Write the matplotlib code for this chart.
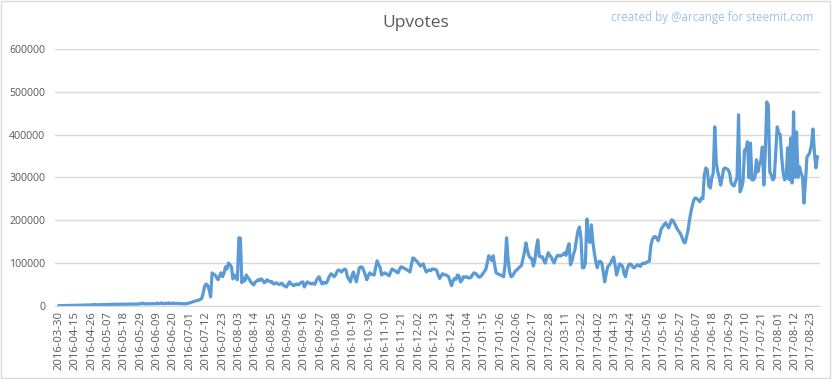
import matplotlib
matplotlib.use("Agg")
import matplotlib.pyplot as plt
from matplotlib.patches import Rectangle
from matplotlib.ticker import FuncFormatter

# one label every 11 days
tick_labels = [
    "2016-03-30", "2016-04-15", "2016-04-26", "2016-05-07", "2016-05-18",
    "2016-05-29", "2016-06-09", "2016-06-20", "2016-07-01", "2016-07-12",
    "2016-07-23", "2016-08-03", "2016-08-14", "2016-08-25", "2016-09-05",
    "2016-09-16", "2016-09-27", "2016-10-08", "2016-10-19", "2016-10-30",
    "2016-11-10", "2016-11-21", "2016-12-02", "2016-12-13", "2016-12-24",
    "2017-01-04", "2017-01-15", "2017-01-26", "2017-02-06", "2017-02-17",
    "2017-02-28", "2017-03-11", "2017-03-22", "2017-04-02", "2017-04-13",
    "2017-04-24", "2017-05-05", "2017-05-16", "2017-05-27", "2017-06-07",
    "2017-06-18", "2017-06-29", "2017-07-10", "2017-07-21", "2017-08-01",
    "2017-08-12", "2017-08-23",
]

# daily upvotes in thousands, one row per 11-day block
upvotes_k = [
    0.5, 0.5, 0.6, 0.7, 0.8, 0.8, 0.9, 1, 1, 1.1, 1.2,
    1.2, 1.3, 1.4, 1.5, 1.5, 1.6, 1.8, 1.7, 1.9, 2, 2.1,
    2.2, 2.4, 3.5, 2.5, 2.6, 2.8, 2.7, 3.2, 2.9, 3, 3.1,
    3.2, 3.5, 3.3, 3.6, 3.4, 3.8, 3.5, 3.6, 3.9, 3.7, 3.8,
    3.9, 4, 3.8, 4.1, 4, 4.2, 4.1, 4.3, 4.2, 4.4, 4.3,
    4.5, 6.5, 5, 4.6, 4.8, 5, 4.7, 4.9, 5.2, 4.8, 5,
    6.5, 5, 5.5, 7, 5.2, 5, 6.5, 5.3, 7, 5.4, 5.5,
    6.8, 5.5, 5.2, 6, 5, 5.5, 4.8, 5, 4.7, 5.5, 6,
    7, 8, 9.5, 10.5, 11.5, 12.5, 13.5, 15, 17, 30, 46,
    51, 48, 38, 21, 77, 74, 72, 66, 61, 70, 77,
    68, 76, 91, 86, 100, 96, 91, 63, 72, 66, 61,
    159, 158, 54, 65, 58, 72, 66, 62, 56, 52, 49,
    55, 58, 61, 59, 63, 60, 54, 56, 61, 58, 56,
    57, 52, 51, 54, 52, 50, 51, 53, 48, 46, 44,
    50, 56, 52, 49, 47, 50, 51, 49, 52, 55, 56,
    44, 50, 56, 54, 52, 51, 53, 50, 58, 65, 68,
    58, 51, 55, 53, 54, 62, 70, 75, 72, 68, 72,
    80, 84, 82, 79, 83, 86, 84, 68, 62, 56, 70,
    79, 66, 56, 72, 89, 91, 90, 82, 72, 61, 70,
    77, 74, 73, 72, 90, 105, 96, 89, 72, 75, 77,
    75, 73, 70, 78, 86, 84, 82, 79, 77, 85, 91,
    90, 88, 86, 84, 82, 79, 95, 112, 110, 106, 103,
    98, 93, 96, 98, 88, 79, 82, 84, 82, 86, 86,
    85, 83, 72, 64, 70, 75, 73, 72, 71, 68, 58,
    47, 58, 64, 62, 72, 70, 56, 60, 68, 67, 68,
    66, 65, 66, 72, 77, 76, 73, 68, 67, 70, 75,
    80, 85, 100, 117, 112, 106, 117, 95, 77, 75, 73,
    72, 70, 68, 95, 159, 110, 80, 68, 70, 76, 82,
    84, 88, 91, 94, 110, 125, 147, 130, 117, 112, 110,
    93, 105, 135, 154, 116, 114, 115, 106, 100, 112, 124,
    118, 114, 106, 100, 110, 117, 118, 116, 118, 120, 124,
    118, 135, 145, 96, 105, 120, 131, 155, 175, 184, 160,
    89, 89, 100, 203, 160, 148, 189, 150, 124, 103, 89,
    103, 104, 100, 80, 56, 75, 91, 95, 100, 108, 114,
    95, 72, 85, 98, 96, 92, 75, 68, 85, 95, 98,
    96, 90, 89, 93, 96, 95, 92, 98, 100, 99, 101,
    103, 104, 140, 155, 161, 162, 158, 152, 165, 180, 184,
    190, 194, 188, 182, 192, 201, 199, 192, 185, 178, 173,
    168, 160, 150, 147, 160, 177, 200, 220, 235, 248, 252,
    250, 247, 243, 252, 250, 306, 322, 318, 280, 275, 299,
    310, 418, 336, 313, 300, 282, 300, 320, 322, 320, 318,
    310, 287, 282, 280, 290, 300, 446, 266, 275, 290, 364,
    364, 383, 299, 380, 294, 294, 300, 341, 313, 330, 340,
    371, 282, 360, 476, 469, 313, 305, 294, 298, 360, 418,
    404, 400, 348, 310, 294, 300, 369, 295, 392, 287, 453,
    300, 406, 300, 325, 310, 301, 240, 290, 348, 352, 360,
    375, 413, 360, 322, 348,
]

upvotes = [v * 1000 for v in upvotes_k]
days = list(range(len(upvotes)))

GREY = "#595959"
GRID = "#D9D9D9"
plt.rcParams["font.family"] = ["Open Sans", "DejaVu Sans"]

fig = plt.figure(figsize=(8.32, 3.79), dpi=100)
fig.patches.append(Rectangle((0.001, 0.002), 0.997, 0.995, transform=fig.transFigure,
                             fill=False, edgecolor=GRID, lw=1))

ax = fig.add_axes([0.066, 0.193, 0.92, 0.678])
ax.plot(days, upvotes, color="#5B9BD5", lw=2.3, solid_joinstyle="round")

ax.set_xlim(-2.7, 512)
ax.set_ylim(0, 600000)
ax.set_yticks(range(0, 600001, 100000))
ax.yaxis.set_major_formatter(FuncFormatter(lambda v, p: f"{int(v)}"))
ax.set_xticks(range(0, 11 * len(tick_labels), 11))
ax.set_xticklabels(tick_labels, rotation=90)

ax.grid(axis="y", color=GRID, lw=1)
ax.set_axisbelow(True)
for s in ["top", "right", "left"]:
    ax.spines[s].set_visible(False)
ax.spines["bottom"].set_color(GRID)
ax.tick_params(length=0, colors=GREY)
ax.tick_params(axis="y", pad=7, labelsize=7.6)
ax.tick_params(axis="x", pad=4, labelsize=8.1)

fig.text(0.5, 1 - 23 / 379, "Upvotes", ha="center", va="center",
         fontsize=12.5, color=GREY)
fig.text(0.978, 1 - 18 / 379, "created by @arcange for steemit.com",
         ha="right", va="center", fontsize=8.4, color="#9DC3E6")

plt.savefig("out.png", dpi=100)
plt.close()
